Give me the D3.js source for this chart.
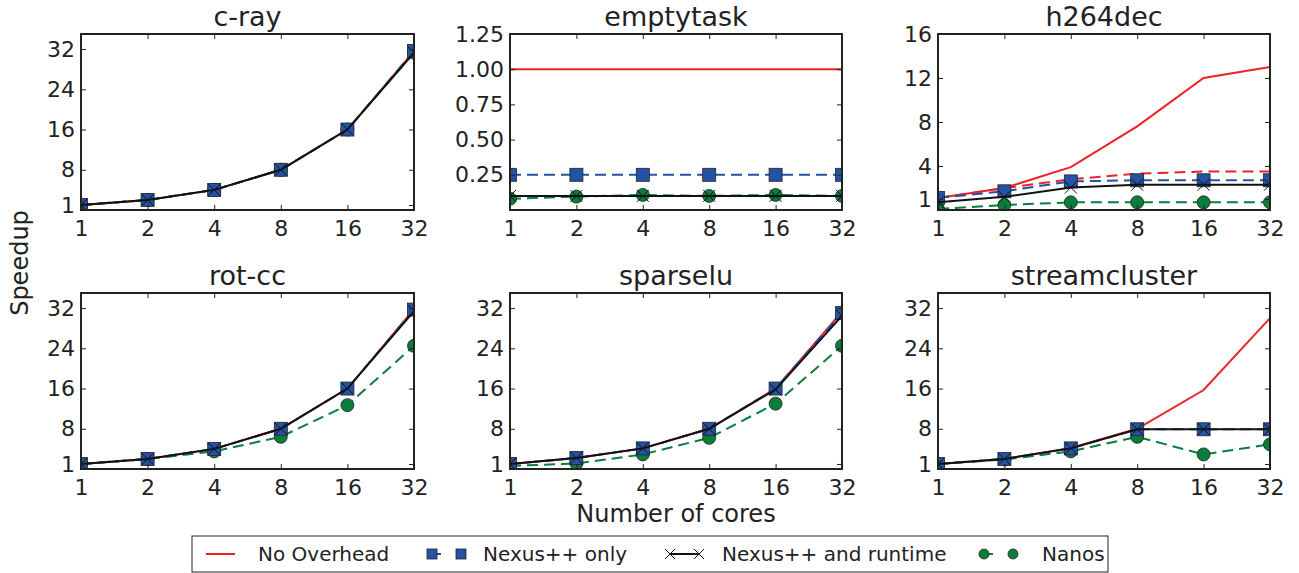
<!DOCTYPE html>
<html>
<head>
<meta charset="utf-8">
<script src="https://cdn.jsdelivr.net/npm/d3@7"></script>
<style>
  body { margin: 0; background: #fff; }
  text { font-family: "DejaVu Sans", sans-serif; fill: #222; }
</style>
</head>
<body>
<div id="chart"></div>
<script>
const width = 1299, height = 573;

// data
const cores = [1, 2, 4, 8, 16, 32];
const panelNames = ["c-ray", "emptytask", "h264dec", "rot-cc", "sparselu", "streamcluster"];
const yMaxes = [35, 1.25, 16, 35, 35, 35];
const yTickValues = [
  [1, 8, 16, 24, 32], [0.25, 0.5, 0.75, 1, 1.25], [1, 4, 8, 12, 16],
  [1, 8, 16, 24, 32], [1, 8, 16, 24, 32], [1, 8, 16, 24, 32]
];
const seriesNames = ["No Overhead", "Nexus++ only", "Nexus++ and runtime", "Nanos"];

const noOverhead = [
  [1, 2, 4, 8, 16, 31.6],
  [1, 1, 1, 1, 1, 1],
  [1.1, 2.0, 3.9, 7.6, 12.0, 13.0],
  [1, 2, 4, 8, 16, 31.8],
  [1, 2.2, 4.1, 8, 16, 31.3],
  [1, 2, 4.2, 8, 15.7, 30]
];
// extra red dashed line only shown in h264dec
const noOverheadDashed = [null, null, [1.1, 2.0, 2.8, 3.3, 3.5, 3.5], null, null, null];
const nexusOnly = [
  [1, 2, 4, 8, 16, 31.6],
  [0.25, 0.25, 0.25, 0.25, 0.25, 0.25],
  [1.1, 1.7, 2.6, 2.7, 2.7, 2.7],
  [1, 2, 4, 8, 16, 31.7],
  [1, 2.2, 4.1, 8, 16, 31],
  [1, 2, 4.1, 7.9, 7.9, 7.9]
];
const nexusRuntime = [
  [1, 2, 4, 8, 16, 31.3],
  [0.1, 0.1, 0.1, 0.1, 0.1, 0.1],
  [0.7, 1.2, 2.05, 2.3, 2.3, 2.3],
  [1, 2, 4, 8, 16, 31.4],
  [1, 2.2, 4.1, 8, 15.8, 30.5],
  [1, 2, 4.1, 7.9, 7.9, 7.9]
];
const nanos = [
  [1, 2, 4, 8, 16, 31.3],
  [0.08, 0.095, 0.107, 0.1, 0.107, 0.1],
  [0.1, 0.45, 0.7, 0.7, 0.7, 0.7],
  [1, 2, 3.5, 6.4, 12.7, 24.5],
  [0.6, 1.1, 2.9, 6.2, 13, 24.5],
  [1, 1.9, 3.5, 6.4, 2.9, 4.9]
];

const RED = "#ee2029", BLUE = "#2452a5", GREEN = "#0a7d3b";

// layout of the plot boxes
const colX = [[81, 414], [510, 842], [938, 1270]];
const rowY = [[34, 210], [293, 469]];

const svg = d3.select("#chart").append("svg")
  .attr("width", width).attr("height", height);

const lineStyles = [
  { data: noOverhead, color: RED, dash: null, marker: null },
  { data: noOverheadDashed, color: RED, dash: "11,6", marker: null },
  { data: nanos, color: GREEN, dash: "11,6", marker: "circle" },
  { data: nexusOnly, color: BLUE, dash: "11,6", marker: "square" },
  { data: nexusRuntime, color: "#111", dash: null, marker: "x" }
];

function drawMarker(g, type, x, y, color, size) {
  if (type === "square") {
    g.append("rect")
      .attr("x", x - size / 2).attr("y", y - size / 2)
      .attr("width", size).attr("height", size)
      .attr("fill", color).attr("stroke", "#222").attr("stroke-width", 0.8);
  } else if (type === "circle") {
    g.append("circle")
      .attr("cx", x).attr("cy", y).attr("r", size / 2)
      .attr("fill", color).attr("stroke", "#222").attr("stroke-width", 0.8);
  } else if (type === "x") {
    const h = size / 2;
    g.append("path")
      .attr("d", `M${x - h},${y - h}L${x + h},${y + h}M${x - h},${y + h}L${x + h},${y - h}`)
      .attr("stroke", "#111").attr("stroke-width", 1).attr("fill", "none");
  }
}

panelNames.forEach((name, i) => {
  const [x0, x1] = colX[i % 3];
  const [y0, y1] = rowY[Math.floor(i / 3)];

  const x = d3.scaleLog().base(2).domain([1, 32]).range([x0, x1]);
  const y = d3.scaleLinear().domain([0, yMaxes[i]]).range([y1, y0]);
  const fmt = i === 1 ? d3.format(".2f") : d3.format("d");

  const g = svg.append("g");

  g.append("clipPath").attr("id", `clip-${i}`)
    .append("rect").attr("x", x0).attr("y", y0).attr("width", x1 - x0).attr("height", y1 - y0);

  const plot = g.append("g").attr("clip-path", `url(#clip-${i})`);

  lineStyles.forEach(s => {
    const vals = s.data[i];
    if (!vals) return;
    const line = d3.line().x((d, k) => x(cores[k])).y(d => y(d));
    plot.append("path")
      .attr("d", line(vals))
      .attr("fill", "none")
      .attr("stroke", s.color)
      .attr("stroke-width", 2)
      .attr("stroke-dasharray", s.dash);
    if (s.marker) {
      vals.forEach((v, k) => drawMarker(plot, s.marker, x(cores[k]), y(v), s.color, s.marker === "x" ? 12 : 13));
    }
  });

  // axes with inward ticks on all sides
  const tickStyle = sel => {
    sel.select(".domain").remove();
    sel.selectAll(".tick line").attr("stroke", "#222").attr("stroke-width", 1);
    sel.selectAll(".tick text").attr("font-size", 22).attr("fill", "#222");
  };
  g.append("g").attr("transform", `translate(0,${y1})`)
    .call(d3.axisBottom(x).tickValues(cores).tickFormat(d3.format("d")).tickSizeInner(-5).tickPadding(10))
    .call(tickStyle);
  g.append("g").attr("transform", `translate(0,${y0})`)
    .call(d3.axisTop(x).tickValues(cores).tickFormat("").tickSizeInner(-5))
    .call(tickStyle);
  g.append("g").attr("transform", `translate(${x0},0)`)
    .call(d3.axisLeft(y).tickValues(yTickValues[i]).tickFormat(fmt).tickSizeInner(-5).tickPadding(6))
    .call(tickStyle);
  g.append("g").attr("transform", `translate(${x1},0)`)
    .call(d3.axisRight(y).tickValues(yTickValues[i]).tickFormat("").tickSizeInner(-5))
    .call(tickStyle);

  g.selectAll("text").style("font-family", "'DejaVu Sans', sans-serif");

  g.append("rect")
    .attr("x", x0).attr("y", y0).attr("width", x1 - x0).attr("height", y1 - y0)
    .attr("fill", "none").attr("stroke", "#222").attr("stroke-width", 2);

  g.append("text")
    .attr("x", (x0 + x1) / 2).attr("y", y0 - 8)
    .attr("text-anchor", "middle").attr("font-size", 27)
    .text(name);
});

// shared axis labels
svg.append("text")
  .attr("transform", "translate(28,263) rotate(-90)")
  .attr("text-anchor", "middle").attr("font-size", 24)
  .text("Speedup");
svg.append("text")
  .attr("x", 676).attr("y", 522)
  .attr("text-anchor", "middle").attr("font-size", 24)
  .text("Number of cores");

// legend
const legend = svg.append("g");
legend.append("rect")
  .attr("x", 192).attr("y", 536).attr("width", 916).attr("height", 36)
  .attr("fill", "#fff").attr("stroke", "#222").attr("stroke-width", 1);

const legendItems = [
  { color: RED, marker: null, dash: null, x: 206, tx: 258 },
  { color: BLUE, marker: "square", dash: "9,20", x: 432, tx: 483 },
  { color: "#111", marker: "x", dash: null, x: 670, tx: 722 },
  { color: GREEN, marker: "circle", dash: "9,20", x: 984, tx: 1042 }
];
const ly = 554;
legendItems.forEach((it, k) => {
  const len = 29;
  legend.append("line")
    .attr("x1", it.x).attr("x2", it.x + len).attr("y1", ly).attr("y2", ly)
    .attr("stroke", it.color).attr("stroke-width", 2)
    .attr("stroke-dasharray", it.dash);
  if (it.marker) {
    drawMarker(legend, it.marker, it.x, ly, it.color, 10);
    drawMarker(legend, it.marker, it.x + len, ly, it.color, 10);
  }
  legend.append("text")
    .attr("x", it.tx).attr("y", ly + 7)
    .attr("font-size", 20)
    .text(seriesNames[k]);
});
</script>
</body>
</html>
